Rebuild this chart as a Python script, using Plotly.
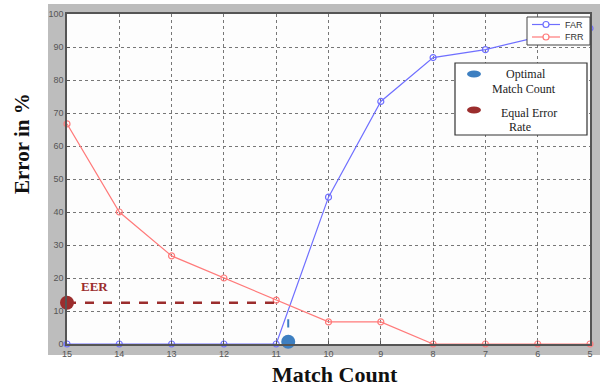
import plotly.graph_objects as go

match_count = [15, 14, 13, 12, 11, 10, 9, 8, 7, 6, 5]
far = [0, 0, 0, 0, 0, 44.5, 73.5, 86.8, 89.2, 93, 95.7]
frr = [66.7, 40, 26.7, 20, 13.3, 6.7, 6.7, 0, 0, 0, 0]
eer_value = 12.5
eer_line_x = [15, 10.9]
optimal_count = 10.77
optimal_tick_y = [5, 7.5]
y_ticks = list(range(0, 101, 10))
x_ticks = match_count

W, H = 603, 387
L, R, T, B = 67, 13, 14, 43
pw, ph = W - L - R, H - T - B

far_color = "#6f6fff"
frr_color = "#ff7a7a"
eer_color = "#9b2d2d"
opt_color = "#3d7fc1"

def px(x):
    return (x - L) / pw

def py(y):
    return (H - B - y) / ph

fig = go.Figure()

fig.add_trace(go.Scatter(x=match_count, y=far, mode="lines+markers", name="FAR",
                         line=dict(color=far_color, width=1.2),
                         marker=dict(symbol="circle-open", size=6, color=far_color, line=dict(width=1.2)),
                         cliponaxis=False))
fig.add_trace(go.Scatter(x=match_count, y=frr, mode="lines+markers", name="FRR",
                         line=dict(color=frr_color, width=1.2),
                         marker=dict(symbol="circle-open", size=6, color=frr_color, line=dict(width=1.2)),
                         cliponaxis=False))
fig.add_trace(go.Scatter(x=eer_line_x, y=[eer_value, eer_value], mode="lines",
                         line=dict(color=eer_color, width=2.5, dash="dash"), cliponaxis=False))
fig.add_trace(go.Scatter(x=[eer_line_x[0]], y=[eer_value], mode="markers",
                         marker=dict(size=14, color=eer_color), cliponaxis=False))
fig.add_trace(go.Scatter(x=[optimal_count, optimal_count], y=optimal_tick_y, mode="lines",
                         line=dict(color=opt_color, width=2)))
fig.add_trace(go.Scatter(x=[optimal_count], y=[0.7], mode="markers",
                         marker=dict(size=14, color=opt_color), cliponaxis=False))

shapes = [
    dict(type="rect", xref="paper", yref="paper", x0=px(48), x1=px(600), y0=py(355), y1=py(4),
         fillcolor="#bdbdbd", line=dict(width=0), layer="below"),
    dict(type="rect", xref="paper", yref="paper", x0=0, x1=1, y0=0, y1=1,
         fillcolor="#fdfdfd", line=dict(width=0), layer="below"),
    # FAR / FRR legend
    dict(type="rect", xref="paper", yref="paper", x0=px(527), x1=px(590), y0=py(45), y1=py(17),
         fillcolor="white", line=dict(color="#444", width=1)),
    dict(type="line", xref="paper", yref="paper", x0=px(532), x1=px(560), y0=py(24.5), y1=py(24.5),
         line=dict(color=far_color, width=1.2)),
    dict(type="circle", xref="paper", yref="paper", x0=px(543), x1=px(549), y0=py(27.5), y1=py(21.5),
         fillcolor="white", line=dict(color=far_color, width=1.2)),
    dict(type="line", xref="paper", yref="paper", x0=px(532), x1=px(560), y0=py(37), y1=py(37),
         line=dict(color=frr_color, width=1.2)),
    dict(type="circle", xref="paper", yref="paper", x0=px(543), x1=px(549), y0=py(40), y1=py(34),
         fillcolor="white", line=dict(color=frr_color, width=1.2)),
    # second legend box
    dict(type="rect", xref="paper", yref="paper", x0=px(455), x1=px(587), y0=py(135), y1=py(63),
         fillcolor="white", line=dict(color="#333", width=1.2)),
    dict(type="circle", xref="paper", yref="paper", x0=px(467), x1=px(481), y0=py(77.5), y1=py(70.5),
         fillcolor=opt_color, line=dict(width=0)),
    dict(type="circle", xref="paper", yref="paper", x0=px(467), x1=px(481), y0=py(113.5), y1=py(106.5),
         fillcolor=eer_color, line=dict(width=0)),
]

serif = "Liberation Serif, Times New Roman, serif"
sans = "Liberation Sans, Arial, sans-serif"

def ann(text, x, y, family, size, color, xanchor="center", **kw):
    return dict(text=text, x=px(x), y=py(y), xref="paper", yref="paper", showarrow=False,
                xanchor=xanchor, yanchor="middle",
                font=dict(family=family, size=size, color=color), **kw)

annotations = [
    ann("FAR", 563, 24.5, sans, 9, "#333", xanchor="left"),
    ann("FRR", 563, 37, sans, 9, "#333", xanchor="left"),
    ann("Optimal", 526, 74, serif, 12, "#222"),
    ann("Match Count", 524, 89, serif, 12, "#222"),
    ann("Equal Error", 529, 113, serif, 12, "#222"),
    ann("Rate", 520, 127, serif, 12, "#222"),
    ann("<b>EER</b>", 94, 286, serif, 13, eer_color),
    ann("<b>Error in %</b>", 22, 144, serif, 21, "#111", textangle=-90),
    ann("<b>Match Count</b>", 335, 374, serif, 22, "#111"),
]

axis_common = dict(showgrid=True, gridcolor="#777", griddash="dot", gridwidth=1,
                   showline=True, linecolor="#555", linewidth=1.5, mirror=True,
                   ticks="inside", ticklen=3, tickcolor="#555", zeroline=False,
                   tickfont=dict(family=sans, size=9, color="#555"))

fig.update_layout(
    width=W, height=H,
    margin=dict(l=L, r=R, t=T, b=B, autoexpand=False),
    paper_bgcolor="white", plot_bgcolor="rgba(0,0,0,0)",
    shapes=shapes, annotations=annotations,
    xaxis=dict(range=[15, 5], tickvals=x_ticks, ticklabelstandoff=0, **axis_common),
    yaxis=dict(range=[0, 100], tickvals=y_ticks, ticklabelstandoff=0, **axis_common),
    showlegend=False,
)

fig.write_html("out.html", config={"displayModeBar": False},
               post_script="document.body.style.margin='0px';document.body.style.overflow='hidden';")
